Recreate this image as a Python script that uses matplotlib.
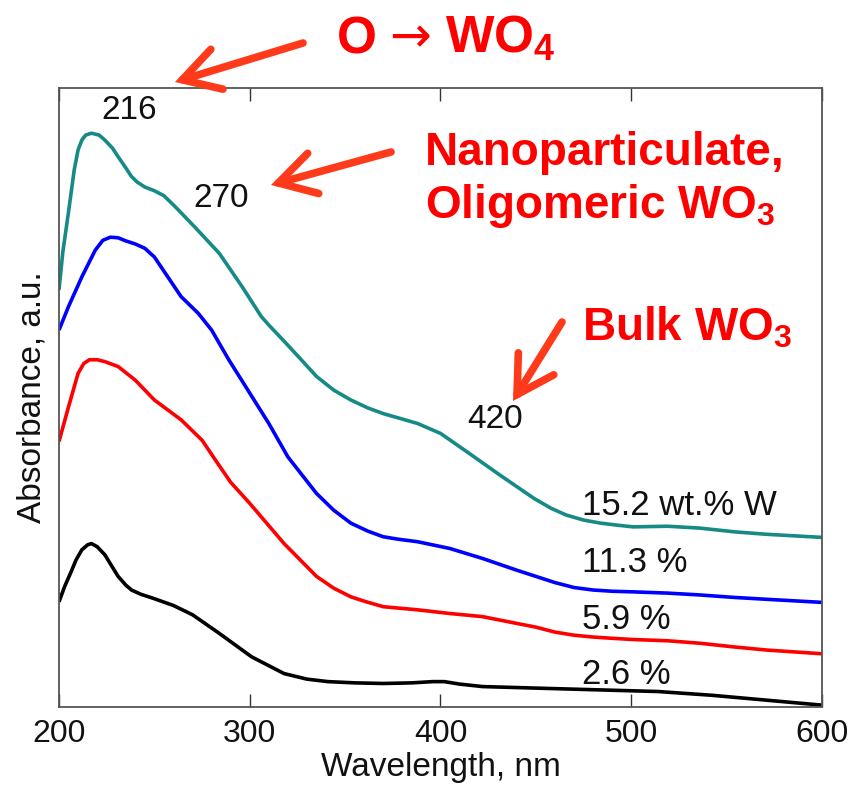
import matplotlib
matplotlib.use("Agg")
import matplotlib.pyplot as plt
from matplotlib.patches import FancyArrowPatch

plt.rcParams['font.family'] = ['Liberation Sans', 'DejaVu Sans']
plt.rcParams['mathtext.fontset'] = 'custom'
plt.rcParams['mathtext.rm'] = 'Liberation Sans'
plt.rcParams['mathtext.bf'] = 'Liberation Sans:bold'

# spectra (wavelength in nm, absorbance in a.u.)
wl_152 = [200, 202, 205, 208, 210, 212, 214, 217, 221, 224, 228, 231, 235, 238, 241, 245, 250, 255, 261, 271,
          284, 296, 306, 310, 318, 327, 335, 344, 353, 362, 370, 388, 400, 414, 431, 449, 458, 466, 475, 484,
          492, 501, 519, 536, 554, 571, 600]
ab_152 = [0.674, 0.735, 0.800, 0.868, 0.900, 0.916, 0.924, 0.927, 0.924, 0.916, 0.903, 0.889, 0.871, 0.857, 0.848,
          0.840, 0.834, 0.826, 0.808, 0.776, 0.733, 0.679, 0.631, 0.617, 0.591, 0.561, 0.534, 0.512, 0.496, 0.483,
          0.474, 0.458, 0.442, 0.412, 0.375, 0.337, 0.321, 0.310, 0.302, 0.297, 0.294, 0.291, 0.292, 0.289, 0.283,
          0.279, 0.274]

wl_113 = [200, 205, 212, 219, 223, 227, 231, 235, 240, 245, 250, 257, 264, 273, 280, 289, 299, 310, 320, 335,
          344, 353, 362, 370, 378, 388, 405, 422, 440, 450, 460, 470, 480, 490, 501, 519, 536, 554, 571, 600]
ab_113 = [0.609, 0.647, 0.695, 0.738, 0.754, 0.759, 0.758, 0.753, 0.748, 0.741, 0.727, 0.695, 0.663, 0.636, 0.609,
          0.561, 0.512, 0.458, 0.404, 0.345, 0.318, 0.297, 0.284, 0.275, 0.271, 0.267, 0.256, 0.240, 0.221, 0.211,
          0.201, 0.193, 0.189, 0.187, 0.186, 0.184, 0.181, 0.177, 0.174, 0.169]

wl_59 = [200, 205, 210, 213, 216, 220, 224, 231, 240, 250, 264, 275, 282, 290, 300, 318, 335, 344, 353, 361,
         370, 388, 405, 422, 440, 450, 460, 470, 480, 490, 501, 519, 536, 554, 571, 600]
ab_59 = [0.429, 0.485, 0.539, 0.555, 0.561, 0.561, 0.558, 0.550, 0.528, 0.496, 0.464, 0.431, 0.399, 0.363, 0.329,
         0.264, 0.211, 0.192, 0.178, 0.170, 0.162, 0.157, 0.151, 0.146, 0.135, 0.129, 0.121, 0.116, 0.113, 0.111,
         0.109, 0.107, 0.103, 0.097, 0.092, 0.086]

wl_26 = [200, 203, 206, 209, 212, 215, 217, 220, 224, 228, 231, 235, 238, 243, 249, 260, 270, 284, 301, 318, 330,
         341, 355, 370, 385, 396, 402, 410, 422, 456, 514, 542, 571, 600]
ab_26 = [0.170, 0.195, 0.216, 0.238, 0.254, 0.262, 0.264, 0.259, 0.246, 0.226, 0.211, 0.197, 0.189, 0.182, 0.176,
         0.164, 0.149, 0.119, 0.081, 0.054, 0.045, 0.041, 0.039, 0.038, 0.039, 0.041, 0.041, 0.037, 0.033, 0.030,
         0.025, 0.019, 0.011, 0.003]

series = [(wl_152, ab_152, '#168a85'), (wl_113, ab_113, '#0000ff'),
          (wl_59, ab_59, '#ff0000'), (wl_26, ab_26, '#000000')]

curve_labels = ['15.2 wt.% W', '11.3 %', '5.9 %', '2.6 %']
label_y = [0.326, 0.233, 0.141, 0.052]
peak_labels = ['216', '270', '420']
peak_x = [237, 285, 428.6]
peak_y = [0.963, 0.821, 0.464]

W, H = 854, 789
fig = plt.figure(figsize=(W / 100, H / 100), dpi=100)
ax = fig.add_axes([59 / W, 1 - 707 / H, (822 - 59) / W, (707 - 88) / H])


def fpos(x, y):
    return x / W, 1 - y / H


for x, y, c in series:
    ax.plot(x, y, color=c, lw=2.6, solid_joinstyle='round', solid_capstyle='butt')

ax.set_xlim(200, 600)
ax.set_ylim(0, 1)
ax.set_xticks([200, 300, 400, 500, 600])
ax.set_yticks([])
ax.tick_params(axis='x', direction='in', top=True, length=9.5, width=1, colors='#333333',
               labelsize=23, labelcolor='#111111', pad=9)
for s in ax.spines.values():
    s.set_color('#555555')
    s.set_linewidth(1.3)
ax.set_xlabel('Wavelength, nm', fontsize=24, color='#111111', labelpad=2)
ax.set_ylabel('Absorbance, a.u.', fontsize=24, color='#111111', labelpad=8)

for t, yy in zip(curve_labels, label_y):
    ax.text(474, yy, t, fontsize=25, color='#111111', va='center', ha='left')
for t, xx, yy in zip(peak_labels, peak_x, peak_y):
    ax.text(xx, yy, t, fontsize=24, color='#111111', va='center', ha='center')

red = '#ff0000'
fig.text(*fpos(337, 53), 'O', fontsize=37, fontweight='bold', color=red, va='baseline')
fig.text(*fpos(410, 38), '→', fontsize=36, color=red, va='center', ha='center', family='DejaVu Sans')
fig.text(*fpos(445, 53), r'WO$_\mathbf{4}$', fontsize=37, fontweight='bold', color=red, va='baseline')
fig.text(*fpos(425, 165), 'Nanoparticulate,', fontsize=33, fontweight='bold', color=red, va='baseline')
fig.text(*fpos(425, 218), r'Oligomeric WO$_\mathbf{3}$', fontsize=33, fontweight='bold', color=red,
         va='baseline')
fig.text(*fpos(582, 340), r'Bulk WO$_\mathbf{3}$', fontsize=33, fontweight='bold', color=red, va='baseline')

arrow_col = '#ff3a1a'
for a, b in [((303, 43), (175, 82)), ((391, 152), (271, 185)), ((562, 322), (513, 401))]:
    arr = FancyArrowPatch(fpos(*a), fpos(*b), transform=fig.transFigure,
                          arrowstyle='->,head_length=1.3,head_width=0.75', mutation_scale=20,
                          color=arrow_col, lw=5.5, capstyle='round', joinstyle='miter',
                          shrinkA=0, shrinkB=0)
    fig.add_artist(arr)

fig.savefig('out.png', dpi=100)
